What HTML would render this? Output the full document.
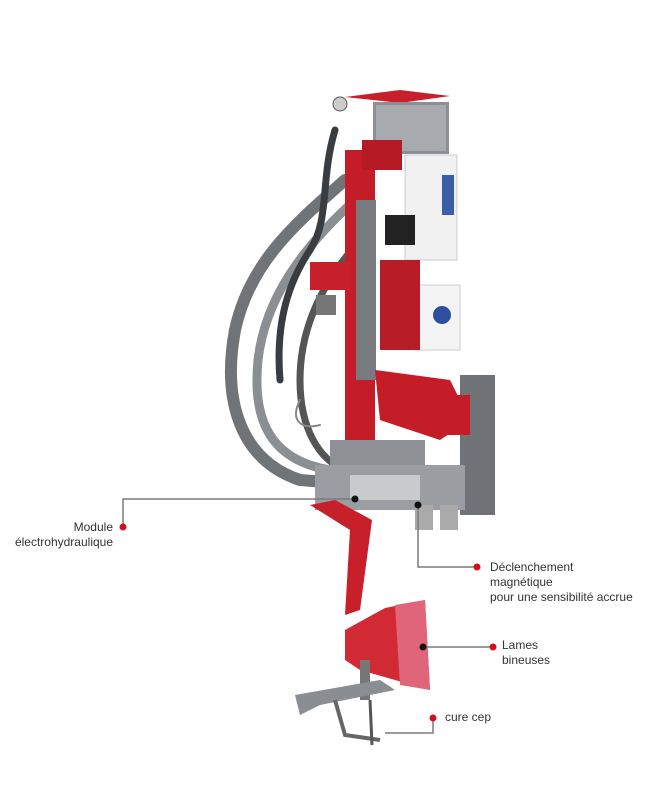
<!DOCTYPE html>
<html><head><meta charset="utf-8"><style>
html,body{margin:0;padding:0;background:#fff;}
body{width:656px;height:788px;position:relative;overflow:hidden;font-family:"Liberation Sans",sans-serif;}
.t{position:absolute;font-size:12px;color:#333;line-height:15px;}
</style></head><body>
<svg width="656" height="788" style="position:absolute;left:0;top:0">
<!-- cables -->
<g fill="none" stroke="#6f7479" stroke-linecap="round">
<path d="M345 180 C300 220 250 260 235 330 C222 400 240 460 300 480 L360 485" stroke-width="12"/>
<path d="M355 200 C300 250 265 300 258 360 C252 420 270 460 330 470" stroke-width="9" stroke="#8a8f94"/>
<path d="M335 130 C320 180 330 220 310 250 C290 280 275 320 280 380" stroke-width="7" stroke="#3a3d40"/>
<path d="M370 230 C330 270 300 320 300 380 C300 430 320 460 345 470" stroke-width="7" stroke="#555"/>
<path d="M300 400 C290 420 300 430 320 425" stroke-width="2" stroke="#888"/>
</g>
<!-- top plate -->
<polygon points="345,97 400,90 450,96 400,103" fill="#c8202a"/>
<rect x="373" y="102" width="76" height="52" fill="#8c9096"/>
<rect x="376" y="105" width="70" height="46" fill="#a7abb0"/>
<circle cx="340" cy="104" r="7" fill="#ccc" stroke="#555"/>
<!-- main column -->
<rect x="345" y="150" width="30" height="300" fill="#c41d27"/>
<rect x="356" y="200" width="20" height="180" fill="#777b80"/>
<rect x="362" y="140" width="40" height="30" fill="#b51b25"/>
<!-- white boxes -->
<rect x="405" y="155" width="52" height="105" fill="#f1f1f1" stroke="#ccc"/>
<rect x="442" y="175" width="12" height="40" fill="#3b5ea8"/>
<rect x="385" y="215" width="30" height="30" fill="#222"/>
<rect x="415" y="285" width="45" height="65" fill="#f3f3f3" stroke="#ccc"/>
<circle cx="442" cy="315" r="9" fill="#2d4fa0"/>
<rect x="380" y="260" width="40" height="90" fill="#b81c26"/>
<rect x="310" y="262" width="40" height="28" fill="#c8202a"/>
<rect x="316" y="295" width="20" height="20" fill="#777"/>
<!-- mid linkage -->
<polygon points="375,370 450,380 470,420 440,440 380,420" fill="#c41d27"/>
<rect x="460" y="375" width="35" height="140" fill="#6f7378"/>
<rect x="440" y="395" width="30" height="40" fill="#c41d27"/>
<rect x="330" y="440" width="95" height="25" fill="#8d9196"/>
<rect x="315" y="465" width="150" height="45" fill="#9a9ea3"/>
<rect x="350" y="475" width="70" height="25" fill="#c8cbce"/>
<rect x="415" y="505" width="18" height="25" fill="#aaa"/>
<rect x="440" y="505" width="18" height="25" fill="#aaa"/>
<!-- shank -->
<polygon points="310,505 335,500 372,520 360,610 345,615 350,530" fill="#c8202a"/>
<!-- blades -->
<polygon points="345,630 385,608 425,600 430,690 395,680 360,670 345,660" fill="#d22a35"/>
<polygon points="395,605 425,600 430,690 400,685" fill="#e0657a"/>
<!-- cure cep -->
<rect x="360" y="660" width="10" height="40" fill="#777"/>
<polygon points="295,695 380,680 395,690 320,705 300,715" fill="#8a8e92"/>
<path d="M335 700 L345 735 L380 740" stroke="#666" stroke-width="4" fill="none"/>
<path d="M370 700 L372 745" stroke="#555" stroke-width="3"/>
<!-- connectors -->
<g stroke="#7a7a7a" stroke-width="1.5" fill="none">
<path d="M123 527 V499 H355"/>
<path d="M477 567 H418 V505"/>
<path d="M423 647 H493"/>
<path d="M433 718 V733 H385"/>
</g>
<g fill="#d0101e">
<circle cx="123" cy="527" r="3.5"/>
<circle cx="477" cy="567" r="3.5"/>
<circle cx="493" cy="647" r="3.5"/>
<circle cx="433" cy="718" r="3.5"/>
</g>
<g fill="#111">
<circle cx="355" cy="499" r="3.5"/>
<circle cx="418" cy="505" r="3.5"/>
<circle cx="423" cy="647" r="3.5"/>
</g>
</svg>
<div class="t" style="right:543px;top:520px;text-align:right">Module</div>
<div class="t" style="right:543px;top:535px;text-align:right">électrohydraulique</div>
<div class="t" style="left:490px;top:560px">Déclenchement<br>magnétique<br>pour une sensibilité accrue</div>
<div class="t" style="left:502px;top:638px">Lames<br>bineuses</div>
<div class="t" style="left:445px;top:710px">cure cep</div>
</body></html>
